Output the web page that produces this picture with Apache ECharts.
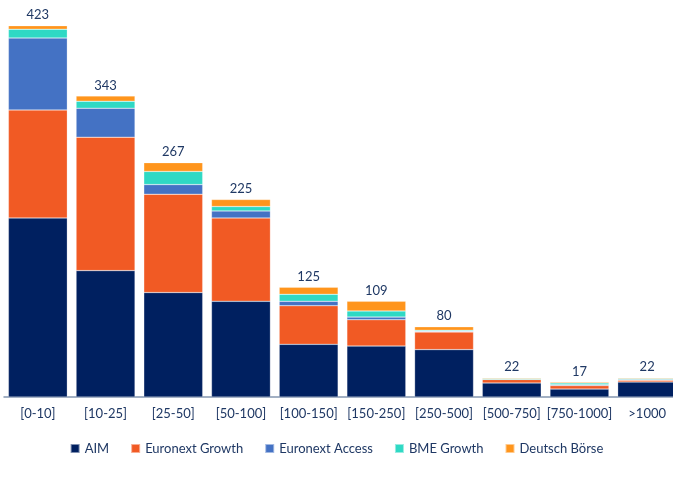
<!DOCTYPE html>
<html>
<head>
<meta charset="utf-8">
<script src="https://cdn.jsdelivr.net/npm/echarts@6/dist/echarts.min.js"></script>
<style>
  html, body { margin: 0; padding: 0; background: #fff; }
  #chart { width: 673px; height: 484px; }
</style>
</head>
<body>
<div id="chart"></div>
<script>
// size buckets
var categories = ['[0-10]', '[10-25]', '[25-50]', '[50-100]', '[100-150]', '[150-250]', '[250-500]', '[500-750]', '[750-1000]', '>1000']

// companies per market
var aim = [204, 144, 119, 109, 60, 58, 54, 16, 9, 17]
var euronextGrowth = [123, 152, 112, 95, 44, 30, 20, 4, 4, 2]
var euronextAccess = [82, 33, 11, 8, 5, 3, 1, 0, 1, 1]
var bmeGrowth = [10, 8, 15, 5, 8, 7, 1, 1, 2, 1]
var deutschBorse = [4, 6, 10, 8, 8, 11, 4, 1, 1, 1]

var markets = [
  { name: 'AIM', data: aim, color: '#002060' },
  { name: 'Euronext Growth', data: euronextGrowth, color: '#f15a24' },
  { name: 'Euronext Access', data: euronextAccess, color: '#4472c4' },
  { name: 'BME Growth', data: bmeGrowth, color: '#2fd9c4' },
  { name: 'Deutsch Börse', data: deutschBorse, color: '#ff951c' }
]

var totals = categories.map(function(c, i) {
  return markets.reduce(function(s, m) { return s + m.data[i] }, 0)
})

var textColor = '#1f3864'
var chart = echarts.init(document.getElementById('chart'))

var series = markets.map(function(m, idx) {
  var s = {
    name: m.name,
    type: 'bar',
    stack: 'total',
    data: m.data,
    barCategoryGap: '13%',
    itemStyle: {
      color: m.color,
      borderColor: 'rgba(255,255,255,0.5)',
      borderWidth: 0.5
    }
  }
  // total on top of the last segment
  if (idx === markets.length - 1) {
    s.label = {
      show: true,
      position: 'top',
      distance: 4,
      color: textColor,
      fontSize: 13,
      fontFamily: 'Lato',
      formatter: function(p) {
        return totals[p.dataIndex]
      }
    }
  }
  return s
})

chart.setOption({
  animation: false,
  grid: {
    left: 4,
    width: 677,
    top: 2,
    bottom: 87,
    outerBoundsMode: 'none'
  },
  legend: {
    bottom: 24,
    left: 'center',
    itemWidth: 9,
    itemHeight: 9,
    itemGap: 21,
    icon: 'rect',
    textStyle: {
      color: textColor,
      fontSize: 13,
      fontFamily: 'Lato'
    },
    data: markets.map(function(m) { return m.name })
  },
  xAxis: {
    type: 'category',
    data: categories,
    axisTick: { show: false },
    axisLine: { lineStyle: { color: '#8497b0', width: 1.5 } },
    axisLabel: {
      color: textColor,
      fontSize: 13,
      fontFamily: 'Lato',
      margin: 10,
      interval: 0
    }
  },
  yAxis: {
    type: 'value',
    min: 0,
    max: 450,
    show: false,
    splitLine: { show: false }
  },
  series: series
})
</script>
</body>
</html>
